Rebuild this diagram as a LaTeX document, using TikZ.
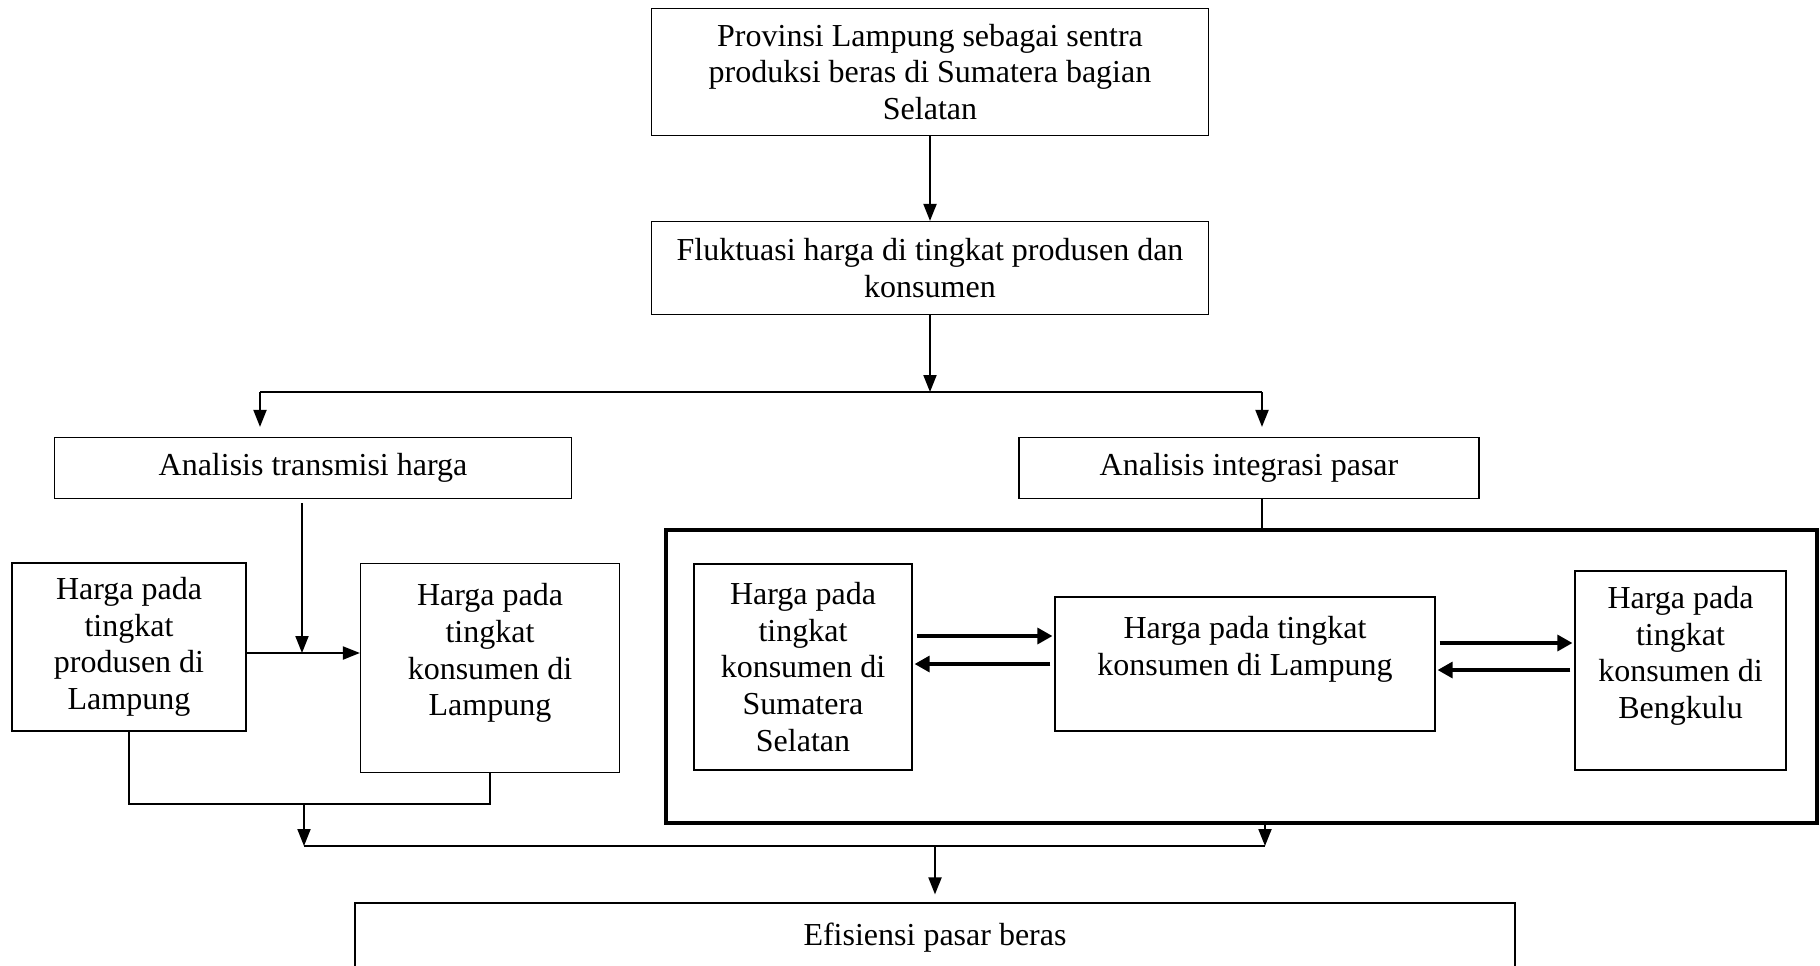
\documentclass[tikz,border=0pt]{standalone}
\usepackage{fontspec}
\setmainfont{Liberation Serif}
\usetikzlibrary{arrows.meta, positioning, calc}
\tikzset{
  box/.style={draw, line width=0.6pt, align=center, inner sep=3pt,
              font=\fontsize{16}{18.3}\selectfont},
  frame/.style={draw, line width=1.6pt},
  link/.style={line width=0.65pt},
  flow/.style={-{Triangle[length=8.5pt, width=6.5pt]}, line width=1pt},
  dual/.style={-{Triangle[length=7.5pt, width=8pt]}, line width=1.6pt,
               shorten <=2pt, shorten >=1pt},
}

\begin{document}
\begin{tikzpicture}[x=0.5pt, y=-0.5pt]
  \useasboundingbox (0,0) rectangle (1820,965);
  \clip (0,0) rectangle (1820,965);
  \node[box, minimum width=278.5pt, minimum height=63.5pt] (prov) at (930,72)
    {Provinsi Lampung sebagai sentra\\produksi beras di Sumatera bagian\\Selatan};
  \node[box, minimum width=278.5pt, minimum height=46.5pt] (fluk) at (930,268)
    {Fluktuasi harga di tingkat produsen dan\\konsumen};
  \node[box, minimum width=258.5pt, minimum height=30.5pt] (trans) at (313,468) {Analisis transmisi harga};
  \node[box, minimum width=230pt, minimum height=30.5pt] (integ) at (1249,468) {Analisis integrasi pasar};
  \node[box, minimum width=117pt, minimum height=84pt] (prod) at (129,647)
    {Harga pada\\tingkat\\produsen di\\Lampung};
  \node[box, minimum width=129.5pt, minimum height=104.5pt] (konL) at (490,668)
    {Harga pada\\tingkat\\konsumen di\\Lampung\\ \mbox{}};
  \node[frame, minimum width=575.5pt, minimum height=146.5pt] (frame) at (1241.5,676.5) {};
  \node[box, minimum width=109pt, minimum height=103pt] (sums) at (803,667)
    {Harga pada\\tingkat\\konsumen di\\Sumatera\\Selatan};
  \node[box, minimum width=190pt, minimum height=67pt] (lamp) at (1245,664)
    {Harga pada tingkat\\konsumen di Lampung\\ \mbox{}};
  \node[box, minimum width=105.5pt, minimum height=99.5pt] (beng) at (1680.5,670.5)
    {Harga pada\\tingkat\\konsumen di\\Bengkulu\\ \mbox{}};
  \node[box, minimum width=580pt, minimum height=35pt] (efis) at (935,938) {Efisiensi pasar beras};

  \coordinate (sL) at (260,392);
  \coordinate (sR) at (1262,392);
  \coordinate (mid) at (302,653);
  \coordinate (jL) at (304,804);
  \coordinate (jB) at (304,846);
  \coordinate (jR) at (1265,846);

  \draw[flow] (prov) -- (fluk);
  \draw[flow] (fluk) -- (fluk |- sL);
  \draw[link] (sL) -- (sR);
  \draw[flow] (sL) -- ([yshift=5pt]sL |- trans.north);
  \draw[flow] (sR) -- ([yshift=5pt]sR |- integ.north);
  \draw[link] (sR |- integ.south) -- (sR |- frame.north);
  \draw[flow] ([yshift=-2pt]trans.south -| mid) -- (mid);
  \draw[flow] (prod.east |- mid) -- (konL.west |- mid);
  \draw[link] (prod.south) -- (prod.south |- jL) -- (konL.south |- jL) -- (konL.south);
  \draw[flow] (jL) -- (jB);
  \draw[link] (jB) -- (jR);
  \draw[flow] (frame.south -| jR) -- (jR);
  \draw[flow] (efis |- jB) -- ([yshift=4pt]efis.north);
  \foreach \a/\b/\y in {sums.east/lamp.west/636, lamp.west/sums.east/664,
                        lamp.east/beng.west/643, beng.west/lamp.east/670}
    \draw[dual] (\a |- 0,\y) -- (\b |- 0,\y);
\end{tikzpicture}
\end{document}
